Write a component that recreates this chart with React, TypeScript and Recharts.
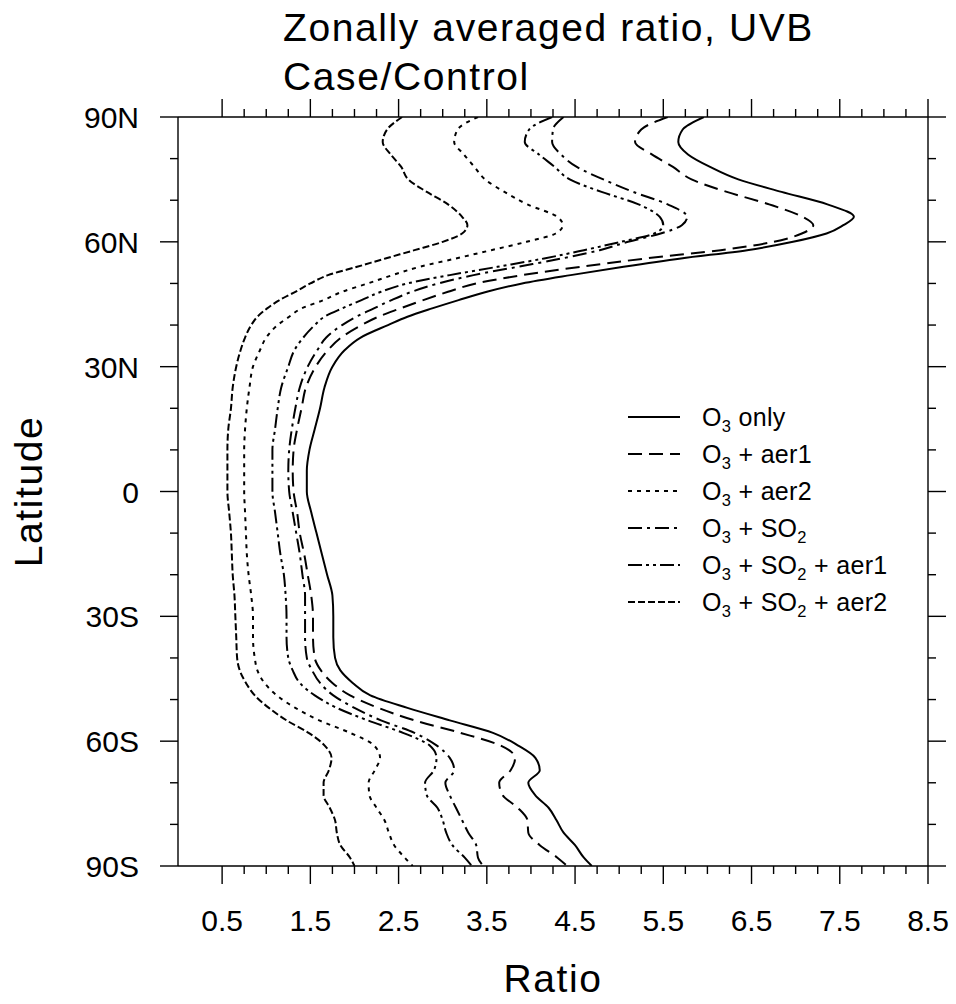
import React from 'react';
import { LineChart, Line, XAxis, YAxis } from 'recharts';

const W = 956;
const H = 1004;
// plot frame
const PL = 178;
const PR = 928;
const PT = 117;
const PB = 866;

const FONT = '"Liberation Sans", Arial, Helvetica, sans-serif';

// latitude grid (deg, + = N)
const lats = [
  90, 87, 84, 81, 78, 75, 72, 69, 66,
  64, 62, 60, 58, 56, 54, 52, 50, 48,
  46, 44, 42, 40, 37, 34, 30,
  25, 20, 15, 10, 5, 0, -5, -10,
  -15, -20, -25, -30, -35, -40, -43,
  -46, -49, -52, -55, -58, -61, -64, -67,
  -70, -73, -76, -79, -82, -85, -88, -90,
];

const o3Only = [
  5.96, 5.72, 5.67, 5.78, 6.03, 6.35, 6.84, 7.36, 7.66,
  7.54, 7.35, 6.97, 6.45, 5.7, 5.05, 4.45, 3.9, 3.5,
  3.18, 2.88, 2.6, 2.38, 2.07, 1.89, 1.75,
  1.66, 1.61, 1.55, 1.49, 1.46, 1.46, 1.51, 1.57,
  1.63, 1.69, 1.75, 1.76, 1.76, 1.78, 1.84,
  1.98, 2.18, 2.6, 3.08, 3.57, 3.85, 4.05, 4.1,
  3.97, 4.05, 4.2, 4.29, 4.37, 4.5, 4.6, 4.69,
];

const o3Aer1 = [
  5.55, 5.25, 5.18, 5.37, 5.61, 5.82, 6.22, 6.7, 7.08,
  7.2, 7.07, 6.75, 6.15, 5.3, 4.56, 3.9, 3.38, 3.06,
  2.78, 2.52, 2.27, 2.08, 1.85, 1.7, 1.56,
  1.45, 1.4, 1.35, 1.31, 1.3, 1.31, 1.35, 1.38,
  1.43, 1.47, 1.51, 1.53, 1.53, 1.55, 1.62,
  1.75, 1.95, 2.27, 2.68, 3.2, 3.65, 3.82, 3.77,
  3.64, 3.68, 3.85, 3.96, 3.97, 4.1, 4.3, 4.41,
];

const o3Aer2 = [
  3.4, 3.17, 3.13, 3.24, 3.36, 3.48, 3.7, 3.96, 4.3,
  4.36, 4.28, 3.95, 3.55, 3.15, 2.74, 2.43, 2.15, 1.86,
  1.65, 1.4, 1.26, 1.13, 1.0, 0.93, 0.85,
  0.81, 0.78, 0.76, 0.75, 0.75, 0.75, 0.76, 0.77,
  0.78, 0.8, 0.83, 0.85, 0.85, 0.87, 0.9,
  0.98, 1.12, 1.33, 1.6, 1.95, 2.22, 2.29, 2.23,
  2.16, 2.17, 2.25, 2.34, 2.39, 2.45, 2.57, 2.66,
];

const o3So2 = [
  4.37, 4.25, 4.24, 4.34, 4.52, 4.82, 5.16, 5.55, 5.77,
  5.71, 5.47, 5.1, 4.78, 4.35, 3.85, 3.35, 2.95, 2.65,
  2.42, 2.22, 2.02, 1.86, 1.68, 1.58, 1.47,
  1.38, 1.33, 1.29, 1.26, 1.25, 1.26, 1.3, 1.34,
  1.38, 1.41, 1.44, 1.44, 1.44, 1.46, 1.52,
  1.61, 1.76, 2.0, 2.3, 2.68, 2.93, 3.08, 3.13,
  3.03, 3.08, 3.15, 3.22, 3.29, 3.38, 3.4, 3.46,
];

const o3So2Aer1 = [
  4.24, 3.98, 3.93, 4.09, 4.27, 4.44, 4.8, 5.22, 5.46,
  5.5, 5.4, 5.02, 4.6, 4.15, 3.62, 3.08, 2.6, 2.3,
  2.08, 1.86, 1.66, 1.55, 1.42, 1.32, 1.25,
  1.17, 1.13, 1.1, 1.07, 1.07, 1.07, 1.1, 1.13,
  1.16, 1.2, 1.22, 1.23, 1.23, 1.25, 1.3,
  1.38, 1.55, 1.8, 2.15, 2.55, 2.85, 2.93, 2.9,
  2.8, 2.82, 2.94, 3.0, 3.04, 3.11, 3.25, 3.33,
];

const o3So2Aer2 = [
  2.54, 2.37, 2.32, 2.41, 2.53, 2.61, 2.82, 3.06, 3.22,
  3.28, 3.22, 3.0, 2.68, 2.35, 2.03, 1.7, 1.5, 1.33,
  1.15, 1.01, 0.9, 0.83, 0.76, 0.71, 0.66,
  0.62, 0.6, 0.57, 0.56, 0.56, 0.56, 0.58, 0.6,
  0.61, 0.62, 0.64, 0.65, 0.66, 0.67, 0.7,
  0.77, 0.87, 1.03, 1.23, 1.48, 1.66, 1.74, 1.71,
  1.65, 1.65, 1.72, 1.78, 1.8, 1.84, 1.95, 2.0,
];

const seriesNames = [
  'O_3 only',
  'O_3 + aer1',
  'O_3 + aer2',
  'O_3 + SO_2',
  'O_3 + SO_2 + aer1',
  'O_3 + SO_2 + aer2',
];

const xMajorTicks = [0.5, 1.5, 2.5, 3.5, 4.5, 5.5, 6.5, 7.5, 8.5];
const latMajorTicks = [90, 60, 30, 0, -30, -60, -90];
const latTickLabels = ['90N', '60N', '30N', '0', '30S', '60S', '90S'];

const series = [
  { key: 'o3Only', values: o3Only, dash: undefined },
  { key: 'o3Aer1', values: o3Aer1, dash: '14 7' },
  { key: 'o3Aer2', values: o3Aer2, dash: '4 5' },
  { key: 'o3So2', values: o3So2, dash: '14 5 3 5' },
  { key: 'o3So2Aer1', values: o3So2Aer1, dash: '14 4 3 4 3 4' },
  { key: 'o3So2Aer2', values: o3So2Aer2, dash: '7 3' },
];

const data = lats.map((lat, i) => {
  const row: Record<string, number> = { lat };
  series.forEach((s) => {
    row[s.key] = s.values[i];
  });
  return row;
});

// minor ticks every 0.25 / 10 deg
const xTicks: number[] = [];
for (let v = 0.5; v <= 8.5; v += 0.25) xTicks.push(v);
const latTicks: number[] = [];
for (let v = -90; v <= 90; v += 10) latTicks.push(v);

const MAJ = 18;
const MIN = 8;
const frame = { stroke: '#000', strokeWidth: 1.4 };

const BottomTick = ({ x, payload }: any) => {
  const i = xMajorTicks.indexOf(payload.value);
  return (
    <g>
      <line x1={x} x2={x} y1={PB} y2={PB + (i >= 0 ? MAJ : MIN)} {...frame} />
      {i >= 0 && (
        <text x={x} y={931} textAnchor="middle" fontSize={30} fontFamily={FONT} fill="#000">
          {xMajorTicks[i].toFixed(1)}
        </text>
      )}
    </g>
  );
};

const TopTick = ({ x, payload }: any) => {
  const major = xMajorTicks.includes(payload.value);
  return <line x1={x} x2={x} y1={PT} y2={PT - (major ? MAJ : MIN)} {...frame} />;
};

const LeftTick = ({ y, payload }: any) => {
  const i = latMajorTicks.indexOf(payload.value);
  return (
    <g>
      <line x1={PL} x2={PL - (i >= 0 ? MAJ : MIN)} y1={y} y2={y} {...frame} />
      {i >= 0 && (
        <text x={139} y={y + 11} textAnchor="end" fontSize={30} fontFamily={FONT} fill="#000">
          {latTickLabels[i]}
        </text>
      )}
    </g>
  );
};

const RightTick = ({ y, payload }: any) => {
  const major = latMajorTicks.includes(payload.value);
  return <line x1={PR} x2={PR + (major ? MAJ : MIN)} y1={y} y2={y} {...frame} />;
};

// "O_3" -> O with subscript 3
const SubText = ({ label, x, y, size }: { label: string; x: number; y: number; size: number }) => {
  const parts = label.split(/_(\d)/);
  return (
    <text x={x} y={y} fontSize={size} fontFamily={FONT} letterSpacing={0.3} fill="#000">
      {parts.map((p, i) =>
        i % 2 === 1 ? (
          <tspan key={i} fontSize={size * 0.66} dy={6}>
            {p}
          </tspan>
        ) : (
          <tspan key={i} dy={i > 0 ? -6 : 0}>
            {p}
          </tspan>
        )
      )}
    </text>
  );
};

export default function App() {
  return (
    <div style={{ position: 'absolute', left: 0, top: 0, width: W, height: H, background: '#fff' }}>
      <LineChart width={W} height={H} data={data} layout="vertical" margin={{ top: 0, right: 0, bottom: 0, left: 0 }}>
        <XAxis
          xAxisId="b"
          type="number"
          orientation="bottom"
          domain={[0, 8.5]}
          ticks={xTicks}
          interval={0}
          height={H - PB}
          tickLine={false}
          axisLine={frame}
          tick={(p: any) => <BottomTick {...p} />}
          allowDataOverflow
        />
        <XAxis
          xAxisId="t"
          type="number"
          orientation="top"
          domain={[0, 8.5]}
          ticks={xTicks}
          interval={0}
          height={PT}
          tickLine={false}
          axisLine={frame}
          tick={(p: any) => <TopTick {...p} />}
          allowDataOverflow
        />
        <YAxis
          yAxisId="l"
          type="number"
          dataKey="lat"
          orientation="left"
          domain={[-90, 90]}
          reversed
          ticks={latTicks}
          interval={0}
          width={PL}
          tickLine={false}
          axisLine={frame}
          tick={(p: any) => <LeftTick {...p} />}
          allowDataOverflow
        />
        <YAxis
          yAxisId="r"
          type="number"
          dataKey="lat"
          orientation="right"
          domain={[-90, 90]}
          reversed
          ticks={latTicks}
          interval={0}
          width={W - PR}
          tickLine={false}
          axisLine={frame}
          tick={(p: any) => <RightTick {...p} />}
          allowDataOverflow
        />
        {series.map((s) => (
          <Line
            key={s.key}
            xAxisId="b"
            yAxisId="l"
            dataKey={s.key}
            type="monotone"
            stroke="#000"
            strokeWidth={2}
            strokeDasharray={s.dash}
            dot={false}
            activeDot={false}
            isAnimationActive={false}
          />
        ))}
      </LineChart>

      <svg width={W} height={H} style={{ position: 'absolute', left: 0, top: 0, pointerEvents: 'none' }}>
        <text x={283} y={41} fontSize={39} fontFamily={FONT} letterSpacing={1.6} fill="#000">
          Zonally averaged ratio, UVB
        </text>
        <text x={283} y={90} fontSize={39} fontFamily={FONT} letterSpacing={1.6} fill="#000">
          Case/Control
        </text>
        <text x={(PL + PR) / 2} y={992} fontSize={39} fontFamily={FONT} letterSpacing={1.6} textAnchor="middle" fill="#000">
          Ratio
        </text>
        <text
          transform={`translate(42, ${(PT + PB) / 2}) rotate(-90)`}
          fontSize={39}
          fontFamily={FONT}
          letterSpacing={1.6}
          textAnchor="middle"
          fill="#000"
        >
          Latitude
        </text>
        {series.map((s, i) => {
          const yc = 417 + i * 37;
          return (
            <g key={s.key}>
              <line x1={628} x2={680} y1={yc} y2={yc} stroke="#000" strokeWidth={2} strokeDasharray={s.dash} />
              <SubText label={seriesNames[i]} x={702} y={yc + 9} size={25} />
            </g>
          );
        })}
      </svg>
    </div>
  );
}
